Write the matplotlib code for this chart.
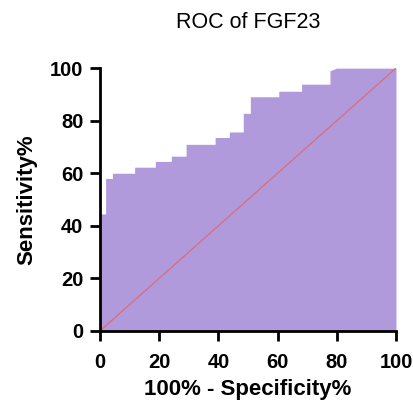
import matplotlib.pyplot as plt
import numpy as np

# ROC curve steps (100% - specificity, sensitivity)
fpr = [0, 0, 1.9, 1.9, 4.2, 4.2, 11.7, 11.7, 18.7, 18.7, 24.1, 24.1, 29.1, 29.1,
       38.9, 38.9, 43.7, 43.7, 48.4, 48.4, 50.8, 50.8, 60.4, 60.4, 68.1, 68.1,
       77.7, 77.7, 80.0, 100]
tpr = [0, 44.5, 44.5, 58.0, 58.0, 60.0, 60.0, 62.3, 62.3, 64.5, 64.5, 66.5, 66.5, 71.0,
       71.0, 73.6, 73.6, 75.7, 75.7, 82.8, 82.8, 89.1, 89.1, 91.2, 91.2, 93.9,
       93.9, 99.0, 100, 100]
ref_line = [0, 100]
ticks = [0, 20, 40, 60, 80, 100]

plt.rcParams['font.family'] = ['Liberation Sans', 'DejaVu Sans']

fig = plt.figure(figsize=(4.14, 4.08), dpi=100)
ax = fig.add_axes([0.2415, 0.189, 0.715, 0.644])

ax.fill_between(fpr, tpr, 0, color='#b09adb', linewidth=0)
ax.plot(ref_line, ref_line, color='#d9707f', linewidth=1.0)

ax.set_xlim(0, 100)
ax.set_ylim(0, 100)
ax.set_xticks(ticks)
ax.set_yticks(ticks)
ax.tick_params(width=2, length=7, labelsize=14.5)
ax.tick_params(axis='x', pad=9)
ax.tick_params(axis='y', pad=5)
for lbl in ax.get_xticklabels() + ax.get_yticklabels():
    lbl.set_fontweight('bold')

for side in ['top', 'right']:
    ax.spines[side].set_visible(False)
for side in ['left', 'bottom']:
    ax.spines[side].set_linewidth(2)

ax.set_xlabel('100% - Specificity%', fontsize=16, fontweight='bold', labelpad=5)
ax.set_ylabel('Sensitivity%', fontsize=16, fontweight='bold', labelpad=9)
ax.set_title('ROC of FGF23', fontsize=15.5, pad=29)

fig.savefig('out.png', dpi=100)
